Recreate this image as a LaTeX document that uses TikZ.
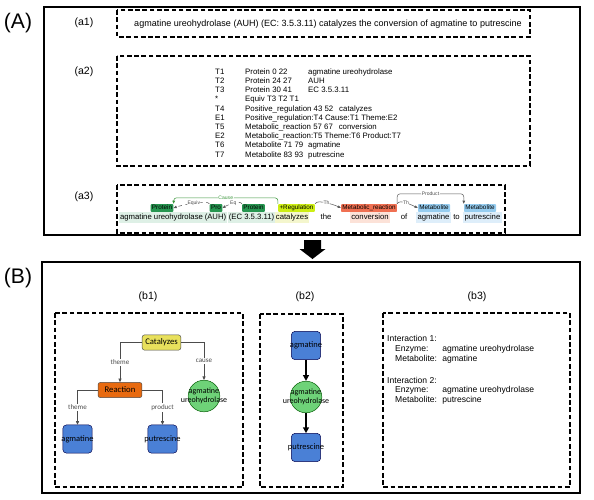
\documentclass[tikz,border=0pt]{standalone}
\usepackage{fontspec}
\setmainfont{Liberation Sans}
\newfontfamily\calibri{Carlito}
\usetikzlibrary{positioning,arrows.meta}

\definecolor{protfg}{RGB}{38,150,80}
\definecolor{protbg}{RGB}{222,240,230}
\definecolor{regfg}{RGB}{205,238,20}
\definecolor{regbg}{RGB}{244,246,205}
\definecolor{mrfg}{RGB}{240,112,82}
\definecolor{mrbg}{RGB}{252,226,216}
\definecolor{metfg}{RGB}{150,205,240}
\definecolor{metbg}{RGB}{222,238,250}
\definecolor{causegreen}{RGB}{60,150,60}
\definecolor{catfill}{RGB}{232,224,92}
\definecolor{reactfill}{RGB}{232,106,16}
\definecolor{enzfill}{RGB}{110,210,120}
\definecolor{blockfill}{RGB}{74,128,214}

\newcommand{\colb}[1]{\makebox[53.8pt][l]{#1}}

\begin{document}
\begin{tikzpicture}[
		x=0.03cm, y=-0.03cm,
		every node/.style={inner sep=0pt},
		panel/.style={draw, line width=1.2pt},
		subpanel/.style={draw, line width=1.1pt, dash pattern=on 4pt off 2.2pt},
		tag/.style={font=\fontsize{9}{10}\selectfont},
		bigtag/.style={font=\fontsize{18}{20}\selectfont},
		plain/.style={font=\fontsize{7.7}{8}\selectfont},
		listing/.style={font=\fontsize{6.7}{7.86}\selectfont},
		word/.style={font=\fontsize{6.6}{7}\selectfont, inner xsep=1pt, inner ysep=1.2pt, text height=5pt, text depth=1.4pt},
		lab/.style={font=\fontsize{5.4}{6}\selectfont, inner xsep=1.2pt, inner ysep=0.9pt, text height=3.9pt, text depth=1.1pt, rounded corners=0.8pt},
		relarc/.style={draw=black!65, line width=0.45pt, rounded corners=2.5pt, -{Triangle[length=2.6pt,width=2.2pt]}},
		arclab/.style={font=\fontsize{4.3}{5}\selectfont, fill=white, inner xsep=0.6pt, inner ysep=0.3pt, text=black!70},
		catbox/.style={draw=black!70, fill=catfill, rounded corners=2pt, minimum width=33pt, minimum height=13pt, font=\calibri\fontsize{7.4}{8}\selectfont},
		reactbox/.style={catbox, fill=reactfill, minimum width=37.5pt},
		enz/.style={circle, draw=green!35!black, fill=enzfill, minimum size=27pt, align=center, font=\calibri\fontsize{6.8}{7.4}\selectfont},
		metblock/.style={draw=blue!30!black, fill=blockfill, rounded corners=3pt, minimum width=25pt, minimum height=24pt, font=\calibri\fontsize{7.2}{8}\selectfont},
		link/.style={draw=black!70, line width=0.6pt, -{Triangle[length=3pt,width=2.6pt]}},
		edgelab/.style={font=\calibri\fontsize{6}{7}\selectfont, text=black!70, fill=white, inner sep=1pt},
		flow/.style={line width=1.2pt, -{Triangle[length=5pt,width=5pt]}}
		]
		\useasboundingbox (0,0) rectangle (594,499);

		% Part (A): text and annotation
		\draw[panel] (44,7) rectangle (580,235);
		\node[bigtag] (tagA) at (18,23) {(A)};
		\node[tag] (tag1) at (84,23) {(a1)};
		\node[tag] (tag2) at (84,72) {(a2)};
		\node[tag] (tag3) at (84,197) {(a3)};

		\draw[subpanel] (117,10) rectangle (530,37);
		\node[plain, anchor=west] (sentence) at (134,24)
			{agmatine ureohydrolase (AUH) (EC: 3.5.3.11) catalyzes the conversion of agmatine to putrescine};

		\draw[subpanel] (117,56) rectangle (530,166);
		\node[listing, anchor=north west] (standoff) at (215,67.5) {%
			\begin{tabular}{@{}p{25.6pt}@{}l@{}l@{}}
				T1 & \colb{Protein 0 22} & agmatine ureohydrolase\\
				T2 & \colb{Protein 24 27} & AUH\\
				T3 & \colb{Protein 30 41} & EC 3.5.3.11\\
				{*} & \multicolumn{2}{@{}l@{}}{Equiv T3 T2 T1}\\
				T4 & \multicolumn{2}{@{}l@{}}{Positive\_regulation 43 52\hspace{5pt}catalyzes}\\
				E1 & \multicolumn{2}{@{}l@{}}{Positive\_regulation:T4 Cause:T1 Theme:E2}\\
				T5 & \multicolumn{2}{@{}l@{}}{Metabolic\_reaction 57 67\hspace{5pt}conversion}\\
				E2 & \multicolumn{2}{@{}l@{}}{Metabolic\_reaction:T5 Theme:T6 Product:T7}\\
				T6 & \colb{Metabolite 71 79} & agmatine\\
				T7 & \colb{Metabolite 83 93} & putrescine
			\end{tabular}};

		\draw[subpanel] (117,185) rectangle (505,233);
		% words of the sentence
		\node[word, fill=protbg] (w1) at (161.5,217.5) {agmatine ureohydrolase};
		\node[word, fill=protbg] (w2) at (215.5,217.5) {(AUH)};
		\node[word, fill=protbg] (w3) at (251.5,217.5) {(EC 3.5.3.11)};
		\node[word, fill=regbg] (w4) at (292,217.5) {catalyzes};
		\node[word] (w5) at (326,217.5) {the};
		\node[word, fill=mrbg] (w6) at (370,217.5) {conversion};
		\node[word] (w7) at (404,217.5) {of};
		\node[word, fill=metbg] (w8) at (433.5,217.5) {agmatine};
		\node[word] (w9) at (456.5,217.5) {to};
		\node[word, fill=metbg] (w10) at (482.5,217.5) {putrescine};
		% entity and event labels
		\node[lab, fill=protfg] (p1) at (162,208) {Protein};
		\node[lab, fill=protfg] (pro) at (216,208) {Pro};
		\node[lab, fill=protfg] (p2) at (253.5,208) {Protein};
		\node[lab, fill=regfg] (reg) at (296.5,208) {+Regulation};
		\node[lab, fill=mrfg] (mr) at (369,208) {Metabolic\_reaction};
		\node[lab, fill=metfg] (m1) at (434,208) {Metabolite};
		\node[lab, fill=metfg] (m2) at (480,208) {Metabolite};
		% relation arcs
		\draw[relarc, dashed] (pro.north west) .. controls +(-2,-4) and +(8,-3) .. node[arclab] {Equiv} (p1.east);
		\draw[relarc, dashed] (p2.north west) .. controls +(-2,-4) and +(5,-3) .. node[arclab] {Eq} (pro.east);
		\draw[relarc, draw=causegreen] (reg.north west) -- ++(0,-6) -| node[pos=0.25, arclab, text=causegreen] {Cause} (p1.north east);
		\draw[relarc] (reg.north east) .. controls +(2,-5) and +(-6,-3) .. node[arclab] {Th} (mr.west);
		\draw[relarc] (mr.north east) .. controls +(2,-5) and +(-6,-3) .. node[arclab] {Th} (m1.west);
		\draw[relarc] (mr.north east) -- ++(0,-10) -| node[pos=0.25, arclab] {Product} (m2.north west);

		% Arrow between the parts
		\fill (304,240) -- (321,240) -- (321,249) -- (325.5,249) -- (312.5,259) -- (299.5,249) -- (304,249) -- cycle;

		% Part (B): extracted interactions
		\draw[panel] (42,262) rectangle (580,493);
		\node[bigtag] (tagB) at (18,278) {(B)};
		\node[tag] (tagb1) at (148,297) {(b1)};
		\node[tag] (tagb2) at (305,297) {(b2)};
		\node[tag] (tagb3) at (477,297) {(b3)};

		% (b1) event tree
		\draw[subpanel] (55,313) rectangle (243,487);
		\node[catbox] (cat) at (161.5,342.5) {Catalyzes};
		\node[reactbox] (react) at (120,390) {Reaction};
		\node[enz] (enz1) at (204,396) {\makebox[0pt]{agmatine}\\\makebox[0pt]{ureohydrolase}};
		\node[metblock] (agm1) at (77.5,439) {\makebox[0pt]{agmatine}};
		\node[metblock] (put1) at (162.5,439) {\makebox[0pt]{putrescine}};
		\draw[link] (cat.west) -| node[pos=0.75, edgelab] {theme} (react.north);
		\draw[link] (cat.east) -| node[pos=0.75, edgelab] {cause} (enz1.north);
		\draw[link] (react.west) -| node[pos=0.75, edgelab] {theme} (agm1.north);
		\draw[link] (react.east) -| node[pos=0.75, edgelab] {product} (put1.north);

		% (b2) chain
		\draw[subpanel] (260,314) rectangle (343,487);
		\node[metblock] (agm2) at (306,345.5) {\makebox[0pt]{agmatine}};
		\node[enz] (enz2) at (306,397) {\makebox[0pt]{agmatine}\\\makebox[0pt]{ureohydrolase}};
		\node[metblock] (put2) at (306,447.5) {\makebox[0pt]{putrescine}};
		\draw[flow] (agm2) -- (enz2);
		\draw[flow] (enz2) -- (put2);

		% (b3) interaction list
		\draw[subpanel] (383,313) rectangle (570,487);
		\node[anchor=north west, font=\fontsize{7.3}{8.5}\selectfont] (pairs) at (387,334) {%
			\begin{tabular}{@{}p{47pt}@{}l@{}}
				Interaction 1: & \\
				\hspace*{6.8pt}Enzyme: & agmatine ureohydrolase\\
				\hspace*{6.8pt}Metabolite: & agmatine\\[10.2pt]
				Interaction 2: & \\
				\hspace*{6.8pt}Enzyme: & agmatine ureohydrolase\\
				\hspace*{6.8pt}Metabolite: & putrescine
			\end{tabular}};
	\end{tikzpicture}
\end{document}
